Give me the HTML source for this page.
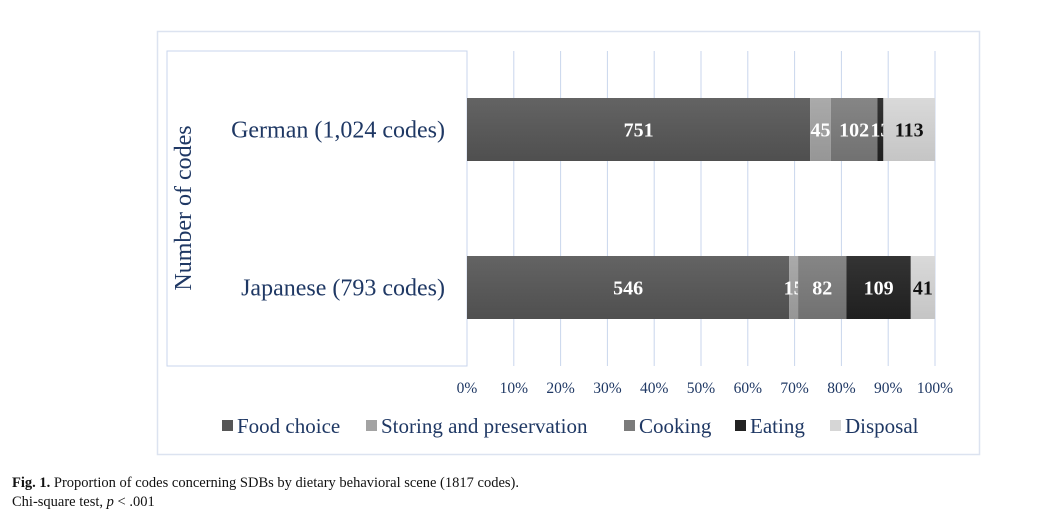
<!DOCTYPE html>
<html><head><meta charset="utf-8"><style>
body{margin:0;background:#fff;}
svg{display:block;font-family:"Liberation Serif",serif;}
</style></head><body>
<svg id="chart" width="1038" height="518" viewBox="0 0 1038 518" xmlns="http://www.w3.org/2000/svg">
<defs>
<linearGradient id="gv" x1="0" y1="0" x2="0" y2="1">
<stop offset="0" stop-color="#fff" stop-opacity="0.08"/>
<stop offset="1" stop-color="#000" stop-opacity="0.08"/>
</linearGradient>
</defs>
<rect x="157.5" y="31.5" width="822" height="423" fill="#fff" stroke="#dce3f0" stroke-width="1.5"/>
<rect x="167" y="51" width="300" height="315" fill="none" stroke="#c9d6ec" stroke-width="1"/>
<g id="grid"></g>
<g id="bars"></g>
<g id="ticks"></g>
<text transform="translate(191,208) rotate(-90)" text-anchor="middle" font-size="24" fill="#1f3864">Number of codes</text>
<g id="cats"></g>
<g id="legend"></g>
<text x="12" y="487" font-size="14.5" fill="#111"><tspan font-weight="bold">Fig. 1.</tspan> Proportion of codes concerning SDBs by dietary behavioral scene (1817 codes).</text>
<text x="12" y="506" font-size="14.5" fill="#111">Chi-square test, <tspan font-style="italic">p</tspan> &lt; .001</text>
</svg>
<script>
const categories = ["German (1,024 codes)", "Japanese (793 codes)"];
const seriesNames = ["Food choice", "Storing and preservation", "Cooking", "Eating", "Disposal"];
const germanValues = [751, 45, 102, 13, 113];
const japaneseValues = [546, 15, 82, 109, 41];
const tickLabels = ["0%","10%","20%","30%","40%","50%","60%","70%","80%","90%","100%"];
const colors = ["#565656","#a3a3a3","#7b7b7b","#222222","#d6d6d6"];
const labelColors = ["#fff","#fff","#fff","#fff","#111"];
const values = [germanValues, japaneseValues];

const NS = "http://www.w3.org/2000/svg";
const x0 = 467, x1 = 935, yTop = 51, yBottom = 366;
const xScale = p => x0 + (x1 - x0) * p;
const bandY = [98, 256], barH = 63;
function mk(tag, attrs, parent){const e=document.createElementNS(NS,tag);for(const k in attrs)e.setAttribute(k,attrs[k]);parent.appendChild(e);return e;}

const grid = document.getElementById('grid');
tickLabels.forEach((t,i)=>{
  const x = xScale(i/(tickLabels.length-1));
  const l = mk('line',{x1:x,x2:x,y1:yTop,y2:yBottom,stroke:'#c9d6ec','stroke-width':1},grid);
  
  
  const tx = mk('text',{x:x,y:393,'text-anchor':'middle','font-size':15.5,fill:'#1f3864'},document.getElementById('ticks'));
  tx.textContent = t;
  
  
});

const bars = document.getElementById('bars');
values.forEach((row,ci)=>{
  const total = row.reduce((a,b)=>a+b,0);
  let acc = 0;
  row.forEach((v,si)=>{
    const xa = xScale(acc/total), xb = xScale((acc+v)/total);
    const r = mk('rect',{x:xa,y:bandY[ci],width:xb-xa,height:barH,fill:colors[si]},bars);
    
    
    const g = mk('rect',{x:xa,y:bandY[ci],width:xb-xa,height:barH,fill:'url(#gv)'},bars);
    
    
    const t = mk('text',{x:(xa+xb)/2,y:bandY[ci]+barH/2+7,'text-anchor':'middle','font-size':20,'font-weight':'bold',fill:labelColors[si]},bars);
    t.textContent = v;
    
    
    acc += v;
  });
  const c = mk('text',{x:445,y:bandY[ci]+barH/2+8,'text-anchor':'end','font-size':24,fill:'#1f3864'},document.getElementById('cats'));
  c.textContent = categories[ci];
  
  
});

const legend = document.getElementById('legend');
const legX = [222, 366, 624, 735, 830];
seriesNames.forEach((n,i)=>{
  const g = mk('g',{},legend);
  
  
  mk('rect',{x:legX[i],y:420,width:11,height:11,fill:colors[i]},g);
  const t = mk('text',{x:legX[i]+15,y:433,'font-size':21,fill:'#1f3864'},g);
  t.textContent = n;
});
</script>
</body></html>
